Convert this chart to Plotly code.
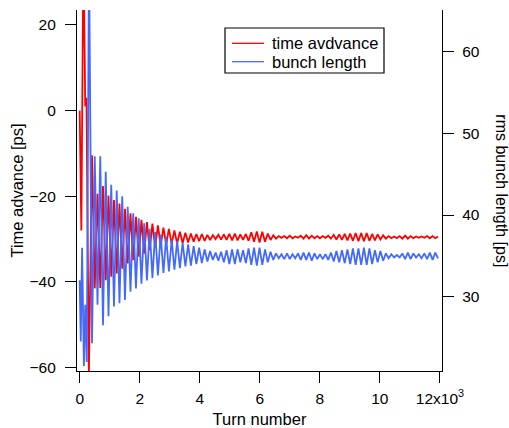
import plotly.graph_objects as go

# ---- data ----
# early, irregular part (turn number, values)
turn_early = [0, 55, 125, 185, 225, 305]
adv_early = [0.0, -28.0, 40.0, 1.0, 3.0, -62.0]
turn_early_len = [0, 35, 80, 140, 185, 235, 310]
len_early = [32.0, 24.5, 36.0, 21.5, 29.0, 22.0, 72.0]

# regular part: extrema sampled every half oscillation period
turn_start = 410
half_period = 91.5
adv_main = [
    -10.4, -41.5, -19.4, -41.4, -17.6, -39.6, -19.8, -38.8, -20.9, -38.0,
    -21.7, -36.9, -22.9, -35.7, -24.0, -34.9, -24.8, -34.1, -25.5, -33.4,
    -26.0, -32.6, -26.4, -32.0, -26.8, -31.6, -27.3, -31.3, -27.6, -31.1,
    -28.0, -31.0, -28.3, -30.9, -28.5, -30.8, -28.7, -30.6, -28.8, -30.5,
    -28.8, -30.4, -29.0, -30.2, -29.1, -30.0, -29.0, -30.1, -28.9, -30.2,
    -28.8, -30.3, -28.7, -30.3, -28.9, -30.2, -28.8, -30.4, -28.4, -30.6,
    -28.2, -30.8, -28.3, -30.6, -28.7, -30.2, -29.1, -29.9, -29.3, -29.7,
    -29.3, -29.8, -29.2, -29.8, -29.4, -29.7, -29.2, -29.9, -29.1, -29.9,
    -29.2, -29.8, -29.3, -29.8, -29.3, -29.7, -29.2, -29.9, -29.0, -30.1,
    -28.9, -30.2, -28.8, -30.3, -28.7, -30.4, -28.6, -30.5, -28.6, -30.5,
    -28.6, -30.4, -28.8, -30.3, -28.9, -30.1, -29.1, -29.9, -29.3, -29.8,
    -29.4, -29.8, -29.3, -29.9, -29.2, -29.9, -29.3, -29.8, -29.4, -29.7,
    -29.4, -29.7, -29.3, -29.8, -29.3, -29.8, -29.4,
]
len_main = [
    24.3, 47.2, 29.0, 47.2, 26.5, 45.3, 27.6, 43.7, 28.8, 43.0,
    29.2, 42.3, 29.6, 41.0, 30.6, 40.2, 31.0, 39.6, 31.6, 39.0,
    32.0, 38.3, 32.3, 37.9, 32.6, 37.6, 32.9, 37.3, 33.1, 37.0,
    33.3, 36.8, 33.5, 36.6, 33.7, 36.4, 33.8, 36.2, 34.0, 36.0,
    34.1, 35.8, 34.3, 35.6, 34.5, 35.4, 34.4, 35.5, 34.2, 35.7,
    34.0, 35.8, 34.0, 35.8, 34.2, 35.7, 34.1, 35.9, 33.9, 36.0,
    33.8, 36.0, 33.9, 35.8, 34.2, 35.5, 34.5, 35.3, 34.7, 35.2,
    34.6, 35.3, 34.6, 35.2, 34.7, 35.3, 34.5, 35.4, 34.5, 35.4,
    34.4, 35.3, 34.6, 35.2, 34.6, 35.2, 34.5, 35.4, 34.3, 35.6,
    34.2, 35.7, 34.1, 35.8, 34.0, 35.9, 33.9, 35.9, 33.9, 36.0,
    33.9, 35.9, 34.0, 35.7, 34.2, 35.6, 34.4, 35.3, 34.7, 35.2,
    34.8, 35.1, 34.8, 35.3, 34.6, 35.4, 34.6, 35.3, 34.8, 35.2,
    34.7, 35.3, 34.6, 35.4, 34.5, 35.4, 34.7,
]

series_names = ["time avdvance", "bunch length"]
x_tickvals = [0, 2000, 4000, 6000, 8000, 10000, 12000]
x_ticktext = ["0", "2", "4", "6", "8", "10", "12x10<sup>3</sup>"]
y1_tickvals = [-60, -40, -20, 0, 20]
y2_tickvals = [30, 40, 50, 60]

RED = "#ff0000"
BLUE = "#4469ff"
FONT = "Liberation Sans, Arial, sans-serif"

turn_main = [turn_start + half_period * i for i in range(len(adv_main))]
adv_turns = turn_early + turn_main
adv_vals = adv_early + adv_main
len_turns = turn_early_len + turn_main
len_vals = len_early + len_main

fig = go.Figure()
fig.add_trace(go.Scatter(x=adv_turns, y=adv_vals, mode="lines", name=series_names[0],
                         line=dict(color=RED, width=1.8),
                         showlegend=False, yaxis="y"))
fig.add_trace(go.Scatter(x=len_turns, y=len_vals, mode="lines", name=series_names[1],
                         line=dict(color=BLUE, width=1.8),
                         showlegend=False, yaxis="y2"))

axis_common = dict(showline=True, linecolor="black", linewidth=1.2,
                   ticks="outside", ticklen=11, tickwidth=1.2, tickcolor="black",
                   showgrid=False, zeroline=False, mirror=False,
                   tickfont=dict(family=FONT, size=15.5, color="black"))

# hand-built legend box (paper coordinates)
shapes = [
    dict(type="rect", xref="paper", yref="paper", x0=0.4055, x1=0.8411,
         y0=0.8255, y1=0.9501, line=dict(color="black", width=1.2),
         fillcolor="white", layer="above"),
    dict(type="line", xref="paper", yref="paper", x0=0.4247, x1=0.5123,
         y0=0.9077, y1=0.9077, line=dict(color=RED, width=1.3), layer="above"),
    dict(type="line", xref="paper", yref="paper", x0=0.4247, x1=0.5123,
         y0=0.8568, y1=0.8568, line=dict(color=BLUE, width=1.3), layer="above"),
]
annotations = [
    dict(text=series_names[0], xref="paper", yref="paper", x=0.5288, y=0.9077,
         xanchor="left", yanchor="middle", showarrow=False,
         font=dict(family=FONT, size=16.5, color="black")),
    dict(text=series_names[1], xref="paper", yref="paper", x=0.5288, y=0.8568,
         xanchor="left", yanchor="middle", showarrow=False,
         font=dict(family=FONT, size=16.5, color="black")),
    dict(text="rms bunch length [ps]", textangle=90,
         xref="paper", yref="paper", x=1.162, y=0.5,
         xanchor="center", yanchor="middle", showarrow=False,
         font=dict(family=FONT, size=16, color="black")),
]

fig.update_layout(
    width=509, height=428,
    margin=dict(l=77, r=67, t=10, b=57, pad=0),
    paper_bgcolor="white", plot_bgcolor="white",
    font=dict(family=FONT, size=15.5, color="black"),
    showlegend=False,
    xaxis=dict(range=[-90, 12070], tickvals=x_tickvals, ticktext=x_ticktext,
               ticklabelstandoff=2,
               title=dict(text="Turn number", font=dict(size=16.5), standoff=11),
               automargin=False, **axis_common),
    yaxis=dict(range=[-60.8, 23.5], tickvals=y1_tickvals,
               ticklabelstandoff=6,
               title=dict(text="Time advance [ps]", font=dict(size=16.5), standoff=1),
               automargin=False, **axis_common),
    yaxis2=dict(range=[20.9, 65.1], tickvals=y2_tickvals, overlaying="y",
                side="right", anchor="x", ticklabelstandoff=5,
                automargin=False, **axis_common),
    shapes=shapes,
    annotations=annotations,
)

fig.write_html("out.html", config={"displayModeBar": False},
               post_script="document.body.style.margin='0';"
                           "document.body.style.overflow='hidden';")
